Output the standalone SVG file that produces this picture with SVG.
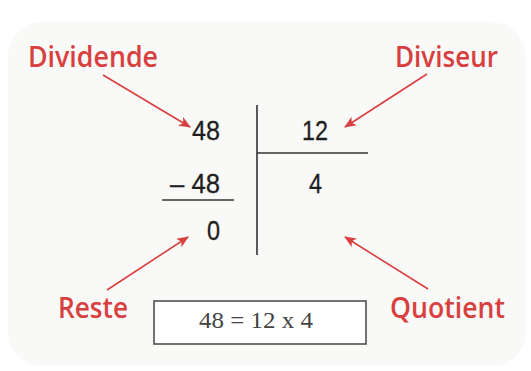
<svg xmlns="http://www.w3.org/2000/svg" width="531" height="371" viewBox="0 0 531 371">
<style>
.lbl{font-family:"Open Sans","Noto Sans",sans-serif;font-weight:600;font-size:28px;fill:#d8403f}
.num{font-family:"Liberation Sans",Arial,sans-serif;font-size:28px;fill:#1e1e1e;stroke:#1e1e1e;stroke-width:0.3}
.eq{font-family:"Liberation Serif","Times New Roman",serif;font-size:23px;fill:#444}
.rule{stroke:#333;stroke-width:1.6;fill:none}
.arr{stroke:#d8403f;stroke-width:1.6;fill:none;marker-end:url(#ah)}
</style>
<defs>
<marker id="ah" viewBox="0 0 12 10" refX="11" refY="5" markerWidth="12" markerHeight="10" markerUnits="userSpaceOnUse" orient="auto">
<path d="M0,0 L12,5 L0,10 L3,5 Z" fill="#d8403f"/>
</marker>
</defs>
<rect width="531" height="371" fill="#ffffff"/>
<rect x="8" y="22" width="518" height="344" rx="34" fill="#f9f9f8"/>
<g id="dividende"><text class="lbl" x="28" y="67" textLength="130" lengthAdjust="spacingAndGlyphs">Dividende</text></g>
<g id="diviseur"><text class="lbl" x="395" y="67" textLength="103" lengthAdjust="spacingAndGlyphs">Diviseur</text></g>
<g id="reste"><text class="lbl" x="58" y="318" textLength="70" lengthAdjust="spacingAndGlyphs">Reste</text></g>
<g id="quotient"><text class="lbl" x="390" y="318" textLength="115" lengthAdjust="spacingAndGlyphs">Quotient</text></g>
<g id="division">
<text class="num" x="192" y="140" textLength="28" lengthAdjust="spacingAndGlyphs">48</text>
<text class="num" x="302" y="140" textLength="26" lengthAdjust="spacingAndGlyphs">12</text>
<text class="num" x="170" y="193" textLength="50" lengthAdjust="spacingAndGlyphs">– 48</text>
<text class="num" x="309" y="193" textLength="13" lengthAdjust="spacingAndGlyphs">4</text>
<text class="num" x="207" y="240" textLength="13" lengthAdjust="spacingAndGlyphs">0</text>
<line class="rule" x1="257" y1="105" x2="257" y2="255"/>
<line class="rule" x1="257" y1="153" x2="368" y2="153"/>
<line class="rule" x1="162" y1="200" x2="234" y2="200"/>
</g>
<g id="equation">
<rect x="154" y="301" width="212" height="43" fill="#ffffff" stroke="#444" stroke-width="1.5"/>
<text class="eq" x="199" y="328" textLength="114" lengthAdjust="spacingAndGlyphs">48 = 12 x 4</text>
</g>
<g id="connectors">
<line class="arr" x1="103" y1="75" x2="190" y2="127"/>
<line class="arr" x1="427" y1="74" x2="345" y2="127"/>
<line class="arr" x1="107" y1="290" x2="188" y2="237"/>
<line class="arr" x1="428" y1="289" x2="345" y2="237"/>
</g>
</svg>
